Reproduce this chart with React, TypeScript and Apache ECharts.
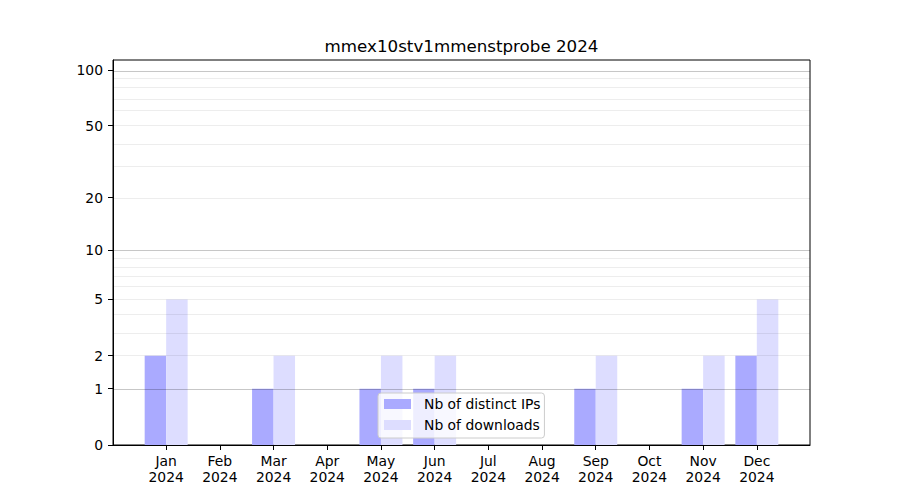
import React, { useEffect, useRef } from 'react';
import * as echarts from 'echarts';

const chartTitle = 'mmex10stv1mmenstprobe 2024';
const months = ['Jan', 'Feb', 'Mar', 'Apr', 'May', 'Jun', 'Jul', 'Aug', 'Sep', 'Oct', 'Nov', 'Dec'];
const year = '2024';
const ipsCounts = [2, 0, 1, 0, 1, 1, 0, 0, 1, 0, 1, 2];
const downloadCounts = [5, 0, 2, 0, 2, 2, 0, 0, 2, 0, 2, 5];
const seriesNames = ['Nb of distinct IPs', 'Nb of downloads'];
const yTicks = [0, 1, 2, 5, 10, 20, 50, 100];
const yMajorGrid = [1, 10, 100];
const yMinorGrid = [2, 3, 4, 5, 6, 7, 8, 9, 20, 30, 40, 50, 60, 70, 80, 90];

// symmetric-log-like scale: log10(v + 1)
const tf = (v: number) => Math.log10(v + 1);
const inv = (t: number) => Math.pow(10, t) - 1;

const FONT = '"DejaVu Sans", sans-serif';

export default function App() {
  const ref = useRef<HTMLDivElement>(null);
  useEffect(() => {
    const chart = echarts.init(ref.current!, null, { renderer: 'svg' });
    const monthIdx = months.map((_, i) => i);
    chart.setOption({
      animation: false,
      textStyle: { fontFamily: FONT },
      graphic: [
        {
          type: 'text',
          x: 461.5,
          y: 46,
          style: {
            text: chartTitle,
            font: `16.7px ${FONT}`,
            fill: '#000',
            align: 'center',
            verticalAlign: 'middle',
          },
        },
      ],
      grid: {
        left: 113,
        right: 90,
        top: 60,
        bottom: 55,
        show: true,
        borderColor: '#000',
        borderWidth: 1,
        backgroundColor: 'transparent',
      },
      legend: {
        data: seriesNames.map((n) => ({ name: n, icon: 'rect' })),
        orient: 'vertical',
        left: 378,
        top: 393,
        itemWidth: 27,
        itemHeight: 10,
        itemGap: 5,
        padding: [3, 4, 5, 6],
        backgroundColor: 'rgba(255,255,255,0.8)',
        borderColor: '#cccccc',
        borderWidth: 1,
        borderRadius: 3,
        selectedMode: false,
        textStyle: {
          fontFamily: FONT,
          fontSize: 13.9,
          color: '#000',
          lineHeight: 16,
          padding: [0, 0, 0, 8],
        },
      },
      xAxis: {
        type: 'value',
        min: -0.99,
        max: 11.99,
        splitLine: { show: false },
        axisLine: { show: true, onZero: false, lineStyle: { color: '#000', width: 1 } },
        axisTick: { show: true, length: 5, customValues: monthIdx, lineStyle: { color: '#000' } },
        axisLabel: {
          customValues: monthIdx,
          formatter: (v: number) => months[Math.round(v)] + '\n' + year,
          color: '#000',
          fontFamily: FONT,
          fontSize: 13.9,
          lineHeight: 16,
          margin: 8,
        },
      },
      yAxis: {
        type: 'value',
        min: 0,
        max: 2.058,
        splitLine: { show: false },
        axisLine: { show: true, onZero: false, lineStyle: { color: '#000', width: 1 } },
        axisTick: { show: true, length: 5, customValues: yTicks.map(tf), lineStyle: { color: '#000' } },
        axisLabel: {
          customValues: yTicks.map(tf),
          formatter: (v: number) => String(Math.round(inv(v))),
          color: '#000',
          fontFamily: FONT,
          fontSize: 13.9,
          margin: 10,
        },
      },
      series: [
        {
          name: seriesNames[0],
          type: 'bar',
          barWidth: 21.5,
          barGap: '-100%',
          itemStyle: { color: '#aaaaff' },
          z: 2,
          data: ipsCounts.map((v, i) => [i - 0.2, tf(v)]),
        },
        {
          name: seriesNames[1],
          type: 'bar',
          barWidth: 21.5,
          barGap: '-100%',
          itemStyle: { color: '#ddddff' },
          z: 2,
          data: downloadCounts.map((v, i) => [i + 0.2, tf(v)]),
        },
        {
          name: 'gridlines',
          type: 'line',
          data: [],
          silent: true,
          z: 3,
          markLine: {
            silent: true,
            symbol: ['none', 'none'],
            label: { show: false },
            animation: false,
            data: [
              ...yMinorGrid.map((v) => ({
                yAxis: tf(v),
                lineStyle: { color: 'rgba(0,0,0,0.07)', width: 1, type: 'solid' },
              })),
              ...yMajorGrid.map((v) => ({
                yAxis: tf(v),
                lineStyle: { color: 'rgba(0,0,0,0.22)', width: 1, type: 'solid' },
              })),
            ],
          },
        },
      ],
    });
    return () => chart.dispose();
  }, []);
  return (
    <div
      ref={ref}
      style={{ position: 'fixed', left: 0, top: 0, width: 900, height: 500, background: '#fff' }}
    />
  );
}
